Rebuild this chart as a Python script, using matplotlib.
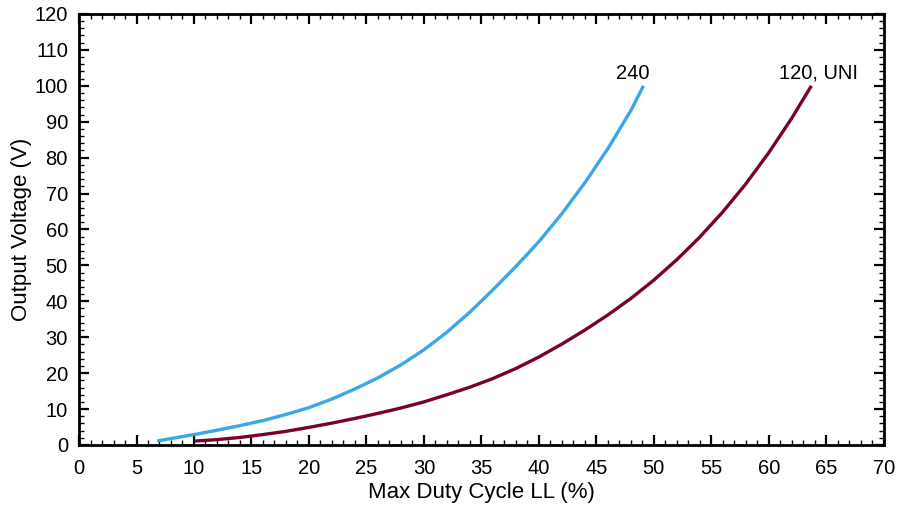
import matplotlib
matplotlib.use('Agg')
from matplotlib import pyplot as plt
from matplotlib.ticker import MultipleLocator

plt.rcParams['font.family'] = ['Liberation Sans', 'DejaVu Sans']

# 240 V line
duty_240 = [6.8, 8, 10, 12, 14, 16, 18, 20, 22, 24, 26, 28, 30, 32, 34, 36,
            38, 40, 42, 44, 46, 48, 49.1]
vout_240 = [1.1, 1.8, 2.9, 4.1, 5.4, 6.8, 8.5, 10.4, 12.8, 15.6, 18.7, 22.3,
            26.5, 31.4, 37.0, 43.2, 49.7, 56.6, 64.4, 73.0, 82.5, 93.1, 100.0]

# 120 V / universal line
duty_120 = [10.1, 12, 14, 16, 18, 20, 22, 24, 26, 28, 30, 32, 34, 36, 38, 40,
            42, 44, 46, 48, 50, 52, 54, 56, 58, 60, 62, 63.7]
vout_120 = [1.1, 1.5, 2.1, 2.9, 3.8, 4.9, 6.1, 7.4, 8.8, 10.3, 12.0, 14.0,
            16.1, 18.5, 21.3, 24.5, 28.1, 32.0, 36.2, 40.8, 45.9, 51.6, 57.9,
            64.9, 72.7, 81.4, 91.0, 100.0]

fig = plt.figure(figsize=(9, 5.16), dpi=100)
ax = fig.add_axes([0.0878, 0.1376, 0.8942, 0.8354])

ax.plot(duty_240, vout_240, color='#3AA8E4', lw=2.4, solid_capstyle='butt',
        solid_joinstyle='round')
ax.plot(duty_120, vout_120, color='#7A0030', lw=2.4, solid_capstyle='butt',
        solid_joinstyle='round')

ax.text(48.2, 101.9, '240', ha='center', va='baseline', fontsize=14.5)
ax.text(64.3, 101.9, '120, UNI', ha='center', va='baseline', fontsize=14.5)

ax.set_xlim(0, 70)
ax.set_ylim(0, 120)
ax.xaxis.set_major_locator(MultipleLocator(5))
ax.xaxis.set_minor_locator(MultipleLocator(1))
ax.yaxis.set_major_locator(MultipleLocator(10))
ax.yaxis.set_minor_locator(MultipleLocator(2))

ax.tick_params(which='both', direction='in', top=True, right=True,
               labelsize=14.5, width=1.6, color='black')
ax.tick_params(which='major', length=7)
ax.tick_params(which='minor', length=3.5, width=1.0)
ax.tick_params(axis='x', which='major', pad=10)
ax.tick_params(axis='y', which='major', pad=8)
for sp in ax.spines.values():
    sp.set_linewidth(2)

ax.set_xlabel('Max Duty Cycle LL (%)', fontsize=16, labelpad=3)
ax.set_ylabel('Output Voltage (V)', fontsize=16, labelpad=2)

fig.savefig('out.png', dpi=100)
plt.close(fig)
